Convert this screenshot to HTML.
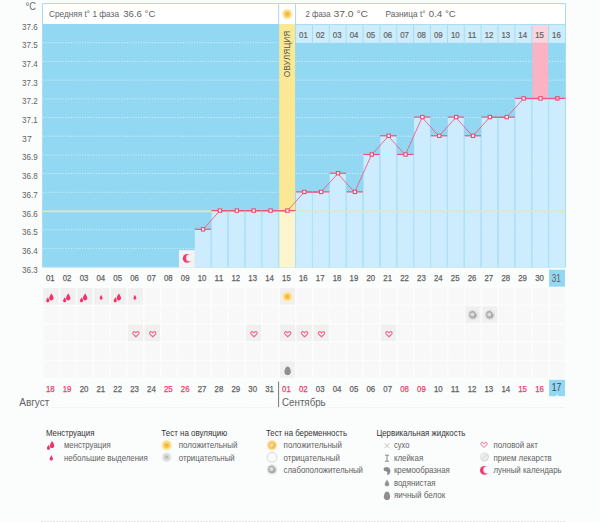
<!DOCTYPE html>
<html><head><meta charset="utf-8"><style>
html,body{margin:0;padding:0;background:#fbfcfc;}
body{width:600px;height:522px;overflow:hidden;position:relative;font-family:"Liberation Sans",sans-serif;}
svg{position:absolute;left:0;top:0;}
text{font-family:"Liberation Sans",sans-serif;}
</style></head><body>
<svg width="600" height="522" viewBox="0 0 600 522">

<rect x="42" y="3" width="524" height="21" fill="#ffffff"/>
<rect x="43" y="24" width="522" height="243.60" fill="#93d8f3"/>
<rect x="296.06" y="24" width="268.94" height="18.7" fill="#cdedfd"/>
<rect x="532.26" y="24" width="15.87" height="18.7" fill="#fcd4de"/>
<rect x="532.26" y="42.7" width="15.87" height="56.10" fill="#f9b3c3"/>
<rect x="279.19" y="24" width="15.87" height="187.00" fill="#fbe894"/>
<line x1="43" y1="42.70" x2="278.69" y2="42.70" stroke="#d8f1fb" stroke-width="1" stroke-dasharray="1 1.8"/>
<line x1="296.06" y1="42.70" x2="531.76" y2="42.70" stroke="#d8f1fb" stroke-width="1" stroke-dasharray="1 1.8"/>
<line x1="549.13" y1="42.70" x2="565" y2="42.70" stroke="#d8f1fb" stroke-width="1" stroke-dasharray="1 1.8"/>
<line x1="43" y1="61.40" x2="278.69" y2="61.40" stroke="#d8f1fb" stroke-width="1" stroke-dasharray="1 1.8"/>
<line x1="296.06" y1="61.40" x2="531.76" y2="61.40" stroke="#d8f1fb" stroke-width="1" stroke-dasharray="1 1.8"/>
<line x1="549.13" y1="61.40" x2="565" y2="61.40" stroke="#d8f1fb" stroke-width="1" stroke-dasharray="1 1.8"/>
<line x1="43" y1="80.10" x2="278.69" y2="80.10" stroke="#d8f1fb" stroke-width="1" stroke-dasharray="1 1.8"/>
<line x1="296.06" y1="80.10" x2="531.76" y2="80.10" stroke="#d8f1fb" stroke-width="1" stroke-dasharray="1 1.8"/>
<line x1="549.13" y1="80.10" x2="565" y2="80.10" stroke="#d8f1fb" stroke-width="1" stroke-dasharray="1 1.8"/>
<line x1="43" y1="98.80" x2="278.69" y2="98.80" stroke="#d8f1fb" stroke-width="1" stroke-dasharray="1 1.8"/>
<line x1="296.06" y1="98.80" x2="565" y2="98.80" stroke="#d8f1fb" stroke-width="1" stroke-dasharray="1 1.8"/>
<line x1="43" y1="117.50" x2="278.69" y2="117.50" stroke="#d8f1fb" stroke-width="1" stroke-dasharray="1 1.8"/>
<line x1="296.06" y1="117.50" x2="565" y2="117.50" stroke="#d8f1fb" stroke-width="1" stroke-dasharray="1 1.8"/>
<line x1="43" y1="136.20" x2="278.69" y2="136.20" stroke="#d8f1fb" stroke-width="1" stroke-dasharray="1 1.8"/>
<line x1="296.06" y1="136.20" x2="565" y2="136.20" stroke="#d8f1fb" stroke-width="1" stroke-dasharray="1 1.8"/>
<line x1="43" y1="154.90" x2="278.69" y2="154.90" stroke="#d8f1fb" stroke-width="1" stroke-dasharray="1 1.8"/>
<line x1="296.06" y1="154.90" x2="565" y2="154.90" stroke="#d8f1fb" stroke-width="1" stroke-dasharray="1 1.8"/>
<line x1="43" y1="173.60" x2="278.69" y2="173.60" stroke="#d8f1fb" stroke-width="1" stroke-dasharray="1 1.8"/>
<line x1="296.06" y1="173.60" x2="565" y2="173.60" stroke="#d8f1fb" stroke-width="1" stroke-dasharray="1 1.8"/>
<line x1="43" y1="192.30" x2="278.69" y2="192.30" stroke="#d8f1fb" stroke-width="1" stroke-dasharray="1 1.8"/>
<line x1="296.06" y1="192.30" x2="565" y2="192.30" stroke="#d8f1fb" stroke-width="1" stroke-dasharray="1 1.8"/>
<line x1="43" y1="211.00" x2="278.69" y2="211.00" stroke="#d8f1fb" stroke-width="1" stroke-dasharray="1 1.8"/>
<line x1="296.06" y1="211.00" x2="565" y2="211.00" stroke="#d8f1fb" stroke-width="1" stroke-dasharray="1 1.8"/>
<line x1="43" y1="229.70" x2="278.69" y2="229.70" stroke="#d8f1fb" stroke-width="1" stroke-dasharray="1 1.8"/>
<line x1="296.06" y1="229.70" x2="565" y2="229.70" stroke="#d8f1fb" stroke-width="1" stroke-dasharray="1 1.8"/>
<line x1="43" y1="248.40" x2="278.69" y2="248.40" stroke="#d8f1fb" stroke-width="1" stroke-dasharray="1 1.8"/>
<line x1="296.06" y1="248.40" x2="565" y2="248.40" stroke="#d8f1fb" stroke-width="1" stroke-dasharray="1 1.8"/>
<line x1="43" y1="267.10" x2="278.69" y2="267.10" stroke="#d8f1fb" stroke-width="1" stroke-dasharray="1 1.8"/>
<line x1="296.06" y1="267.10" x2="565" y2="267.10" stroke="#d8f1fb" stroke-width="1" stroke-dasharray="1 1.8"/>
<rect x="194.84" y="229.70" width="15.87" height="37.90" fill="#cdedfe"/>
<rect x="211.71" y="211.00" width="15.87" height="56.60" fill="#cdedfe"/>
<rect x="228.58" y="211.00" width="15.87" height="56.60" fill="#cdedfe"/>
<rect x="245.45" y="211.00" width="15.87" height="56.60" fill="#cdedfe"/>
<rect x="262.32" y="211.00" width="15.87" height="56.60" fill="#cdedfe"/>
<rect x="279.19" y="211.00" width="15.87" height="56.60" fill="#fdf5cc"/>
<rect x="296.06" y="192.30" width="15.87" height="75.30" fill="#cdedfe"/>
<rect x="312.94" y="192.30" width="15.87" height="75.30" fill="#cdedfe"/>
<rect x="329.81" y="173.60" width="15.87" height="94.00" fill="#cdedfe"/>
<rect x="346.68" y="192.30" width="15.87" height="75.30" fill="#cdedfe"/>
<rect x="363.55" y="154.90" width="15.87" height="112.70" fill="#cdedfe"/>
<rect x="380.42" y="136.20" width="15.87" height="131.40" fill="#cdedfe"/>
<rect x="397.29" y="154.90" width="15.87" height="112.70" fill="#cdedfe"/>
<rect x="414.16" y="117.50" width="15.87" height="150.10" fill="#cdedfe"/>
<rect x="431.03" y="136.20" width="15.87" height="131.40" fill="#cdedfe"/>
<rect x="447.90" y="117.50" width="15.87" height="150.10" fill="#cdedfe"/>
<rect x="464.77" y="136.20" width="15.87" height="131.40" fill="#cdedfe"/>
<rect x="481.65" y="117.50" width="15.87" height="150.10" fill="#cdedfe"/>
<rect x="498.52" y="117.50" width="15.87" height="150.10" fill="#cdedfe"/>
<rect x="515.39" y="98.80" width="15.87" height="168.80" fill="#cdedfe"/>
<rect x="532.26" y="98.80" width="15.87" height="168.80" fill="#cdedfe"/>
<rect x="549.13" y="98.80" width="15.87" height="168.80" fill="#cdedfe"/>
<rect x="210.71" y="229.70" width="1" height="37.90" fill="#b3e2f8"/>
<rect x="227.58" y="211.00" width="1" height="56.60" fill="#b3e2f8"/>
<rect x="244.45" y="211.00" width="1" height="56.60" fill="#b3e2f8"/>
<rect x="261.32" y="211.00" width="1" height="56.60" fill="#b3e2f8"/>
<rect x="278.19" y="211.00" width="1" height="56.60" fill="#b3e2f8"/>
<rect x="295.06" y="211.00" width="1" height="56.60" fill="#b3e2f8"/>
<rect x="311.94" y="192.30" width="1" height="75.30" fill="#b3e2f8"/>
<rect x="328.81" y="192.30" width="1" height="75.30" fill="#b3e2f8"/>
<rect x="345.68" y="192.30" width="1" height="75.30" fill="#b3e2f8"/>
<rect x="362.55" y="192.30" width="1" height="75.30" fill="#b3e2f8"/>
<rect x="379.42" y="154.90" width="1" height="112.70" fill="#b3e2f8"/>
<rect x="396.29" y="154.90" width="1" height="112.70" fill="#b3e2f8"/>
<rect x="413.16" y="154.90" width="1" height="112.70" fill="#b3e2f8"/>
<rect x="430.03" y="136.20" width="1" height="131.40" fill="#b3e2f8"/>
<rect x="446.90" y="136.20" width="1" height="131.40" fill="#b3e2f8"/>
<rect x="463.77" y="136.20" width="1" height="131.40" fill="#b3e2f8"/>
<rect x="480.65" y="136.20" width="1" height="131.40" fill="#b3e2f8"/>
<rect x="497.52" y="117.50" width="1" height="150.10" fill="#b3e2f8"/>
<rect x="514.39" y="117.50" width="1" height="150.10" fill="#b3e2f8"/>
<rect x="531.26" y="98.80" width="1" height="168.80" fill="#b3e2f8"/>
<rect x="548.13" y="98.80" width="1" height="168.80" fill="#b3e2f8"/>
<rect x="295.06" y="24" width="1" height="18.7" fill="#a8dcf2"/>
<rect x="311.94" y="24" width="1" height="18.7" fill="#a8dcf2"/>
<rect x="328.81" y="24" width="1" height="18.7" fill="#a8dcf2"/>
<rect x="345.68" y="24" width="1" height="18.7" fill="#a8dcf2"/>
<rect x="362.55" y="24" width="1" height="18.7" fill="#a8dcf2"/>
<rect x="379.42" y="24" width="1" height="18.7" fill="#a8dcf2"/>
<rect x="396.29" y="24" width="1" height="18.7" fill="#a8dcf2"/>
<rect x="413.16" y="24" width="1" height="18.7" fill="#a8dcf2"/>
<rect x="430.03" y="24" width="1" height="18.7" fill="#a8dcf2"/>
<rect x="446.90" y="24" width="1" height="18.7" fill="#a8dcf2"/>
<rect x="463.77" y="24" width="1" height="18.7" fill="#a8dcf2"/>
<rect x="480.65" y="24" width="1" height="18.7" fill="#a8dcf2"/>
<rect x="497.52" y="24" width="1" height="18.7" fill="#a8dcf2"/>
<rect x="514.39" y="24" width="1" height="18.7" fill="#a8dcf2"/>
<rect x="531.26" y="24" width="1" height="18.7" fill="#a8dcf2"/>
<rect x="548.13" y="24" width="1" height="18.7" fill="#a8dcf2"/>
<rect x="179" y="250.2" width="15.8" height="17.40" fill="#f4f4f4"/>
<rect x="43" y="210.60" width="522" height="1.6" fill="#e2eba4"/>
<rect x="295.56" y="24" width="269.44" height="1" fill="#aadcf2"/>
<rect x="278.19" y="3" width="1" height="21" fill="#a8dcf2"/>
<rect x="295.06" y="3" width="1" height="21" fill="#a8dcf2"/>
<path d="M42.5,267.60 V3.5 H565.5 V267.60" fill="none" stroke="#a8dcf2" stroke-width="1"/>
<rect x="194.64" y="228.70" width="16.47" height="1.15" fill="#ec5279"/>
<rect x="211.51" y="210.00" width="16.47" height="1.15" fill="#ec5279"/>
<rect x="228.38" y="210.00" width="16.47" height="1.15" fill="#ec5279"/>
<rect x="245.25" y="210.00" width="16.47" height="1.15" fill="#ec5279"/>
<rect x="262.12" y="210.00" width="16.47" height="1.15" fill="#ec5279"/>
<rect x="278.99" y="210.00" width="16.47" height="1.15" fill="#ec5279"/>
<rect x="295.86" y="191.30" width="16.47" height="1.15" fill="#ec5279"/>
<rect x="312.74" y="191.30" width="16.47" height="1.15" fill="#ec5279"/>
<rect x="329.61" y="172.60" width="16.47" height="1.15" fill="#ec5279"/>
<rect x="346.48" y="191.30" width="16.47" height="1.15" fill="#ec5279"/>
<rect x="363.35" y="153.90" width="16.47" height="1.15" fill="#ec5279"/>
<rect x="380.22" y="135.20" width="16.47" height="1.15" fill="#ec5279"/>
<rect x="397.09" y="153.90" width="16.47" height="1.15" fill="#ec5279"/>
<rect x="413.96" y="116.50" width="16.47" height="1.15" fill="#ec5279"/>
<rect x="430.83" y="135.20" width="16.47" height="1.15" fill="#ec5279"/>
<rect x="447.70" y="116.50" width="16.47" height="1.15" fill="#ec5279"/>
<rect x="464.57" y="135.20" width="16.47" height="1.15" fill="#ec5279"/>
<rect x="481.45" y="116.50" width="16.47" height="1.15" fill="#ec5279"/>
<rect x="498.32" y="116.50" width="16.47" height="1.15" fill="#ec5279"/>
<rect x="515.19" y="97.80" width="16.47" height="1.15" fill="#ec5279"/>
<rect x="532.06" y="97.80" width="16.47" height="1.15" fill="#ec5279"/>
<rect x="548.93" y="97.80" width="16.47" height="1.15" fill="#ec5279"/>
<polyline points="202.77,229.70 219.65,211.00 236.52,211.00 253.39,211.00 270.26,211.00 287.13,211.00 304.00,192.30 320.87,192.30 337.74,173.60 354.61,192.30 371.48,154.90 388.36,136.20 405.23,154.90 422.10,117.50 438.97,136.20 455.84,117.50 472.71,136.20 489.58,117.50 506.45,117.50 523.32,98.80 540.19,98.80 557.07,98.80" fill="none" stroke="#ee5d83" stroke-width="0.9"/>
<rect x="200.87" y="227.10" width="4.4" height="4.4" fill="#ea4a73"/>
<rect x="201.97" y="228.20" width="2.2" height="2.2" fill="#ffffff"/>
<rect x="217.75" y="208.40" width="4.4" height="4.4" fill="#ea4a73"/>
<rect x="218.85" y="209.50" width="2.2" height="2.2" fill="#ffffff"/>
<rect x="234.62" y="208.40" width="4.4" height="4.4" fill="#ea4a73"/>
<rect x="235.72" y="209.50" width="2.2" height="2.2" fill="#ffffff"/>
<rect x="251.49" y="208.40" width="4.4" height="4.4" fill="#ea4a73"/>
<rect x="252.59" y="209.50" width="2.2" height="2.2" fill="#ffffff"/>
<rect x="268.36" y="208.40" width="4.4" height="4.4" fill="#ea4a73"/>
<rect x="269.46" y="209.50" width="2.2" height="2.2" fill="#ffffff"/>
<rect x="285.23" y="208.40" width="4.4" height="4.4" fill="#ea4a73"/>
<rect x="286.33" y="209.50" width="2.2" height="2.2" fill="#ffffff"/>
<rect x="302.10" y="189.70" width="4.4" height="4.4" fill="#ea4a73"/>
<rect x="303.20" y="190.80" width="2.2" height="2.2" fill="#ffffff"/>
<rect x="318.97" y="189.70" width="4.4" height="4.4" fill="#ea4a73"/>
<rect x="320.07" y="190.80" width="2.2" height="2.2" fill="#ffffff"/>
<rect x="335.84" y="171.00" width="4.4" height="4.4" fill="#ea4a73"/>
<rect x="336.94" y="172.10" width="2.2" height="2.2" fill="#ffffff"/>
<rect x="352.71" y="189.70" width="4.4" height="4.4" fill="#ea4a73"/>
<rect x="353.81" y="190.80" width="2.2" height="2.2" fill="#ffffff"/>
<rect x="369.58" y="152.30" width="4.4" height="4.4" fill="#ea4a73"/>
<rect x="370.68" y="153.40" width="2.2" height="2.2" fill="#ffffff"/>
<rect x="386.46" y="133.60" width="4.4" height="4.4" fill="#ea4a73"/>
<rect x="387.56" y="134.70" width="2.2" height="2.2" fill="#ffffff"/>
<rect x="403.33" y="152.30" width="4.4" height="4.4" fill="#ea4a73"/>
<rect x="404.43" y="153.40" width="2.2" height="2.2" fill="#ffffff"/>
<rect x="420.20" y="114.90" width="4.4" height="4.4" fill="#ea4a73"/>
<rect x="421.30" y="116.00" width="2.2" height="2.2" fill="#ffffff"/>
<rect x="437.07" y="133.60" width="4.4" height="4.4" fill="#ea4a73"/>
<rect x="438.17" y="134.70" width="2.2" height="2.2" fill="#ffffff"/>
<rect x="453.94" y="114.90" width="4.4" height="4.4" fill="#ea4a73"/>
<rect x="455.04" y="116.00" width="2.2" height="2.2" fill="#ffffff"/>
<rect x="470.81" y="133.60" width="4.4" height="4.4" fill="#ea4a73"/>
<rect x="471.91" y="134.70" width="2.2" height="2.2" fill="#ffffff"/>
<rect x="487.68" y="114.90" width="4.4" height="4.4" fill="#ea4a73"/>
<rect x="488.78" y="116.00" width="2.2" height="2.2" fill="#ffffff"/>
<rect x="504.55" y="114.90" width="4.4" height="4.4" fill="#ea4a73"/>
<rect x="505.65" y="116.00" width="2.2" height="2.2" fill="#ffffff"/>
<rect x="521.42" y="96.20" width="4.4" height="4.4" fill="#ea4a73"/>
<rect x="522.52" y="97.30" width="2.2" height="2.2" fill="#ffffff"/>
<rect x="538.29" y="96.20" width="4.4" height="4.4" fill="#ea4a73"/>
<rect x="539.39" y="97.30" width="2.2" height="2.2" fill="#ffffff"/>
<rect x="555.17" y="96.20" width="4.4" height="4.4" fill="#ea4a73"/>
<rect x="556.27" y="97.30" width="2.2" height="2.2" fill="#f9c0cf"/>
<text x="35.90" y="9.80" font-size="10.2" fill="#6a6a6a" text-anchor="end" font-weight="normal" textLength="10.4" lengthAdjust="spacingAndGlyphs">°C</text>
<text x="22.10" y="29.50" font-size="9.1" fill="#626262" text-anchor="start" font-weight="normal" textLength="15.6" lengthAdjust="spacingAndGlyphs">37.6</text>
<text x="22.10" y="48.20" font-size="9.1" fill="#626262" text-anchor="start" font-weight="normal" textLength="15.6" lengthAdjust="spacingAndGlyphs">37.5</text>
<text x="22.10" y="66.90" font-size="9.1" fill="#626262" text-anchor="start" font-weight="normal" textLength="15.6" lengthAdjust="spacingAndGlyphs">37.4</text>
<text x="22.10" y="85.60" font-size="9.1" fill="#626262" text-anchor="start" font-weight="normal" textLength="15.6" lengthAdjust="spacingAndGlyphs">37.3</text>
<text x="22.10" y="104.30" font-size="9.1" fill="#626262" text-anchor="start" font-weight="normal" textLength="15.6" lengthAdjust="spacingAndGlyphs">37.2</text>
<text x="22.10" y="123.00" font-size="9.1" fill="#626262" text-anchor="start" font-weight="normal" textLength="15.6" lengthAdjust="spacingAndGlyphs">37.1</text>
<text x="22.10" y="141.70" font-size="9.1" fill="#626262" text-anchor="start" font-weight="normal" textLength="9.6" lengthAdjust="spacingAndGlyphs">37</text>
<text x="22.10" y="160.40" font-size="9.1" fill="#626262" text-anchor="start" font-weight="normal" textLength="15.6" lengthAdjust="spacingAndGlyphs">36.9</text>
<text x="22.10" y="179.10" font-size="9.1" fill="#626262" text-anchor="start" font-weight="normal" textLength="15.6" lengthAdjust="spacingAndGlyphs">36.8</text>
<text x="22.10" y="197.80" font-size="9.1" fill="#626262" text-anchor="start" font-weight="normal" textLength="15.6" lengthAdjust="spacingAndGlyphs">36.7</text>
<text x="22.10" y="216.50" font-size="9.1" fill="#626262" text-anchor="start" font-weight="normal" textLength="15.6" lengthAdjust="spacingAndGlyphs">36.6</text>
<text x="22.10" y="235.20" font-size="9.1" fill="#626262" text-anchor="start" font-weight="normal" textLength="15.6" lengthAdjust="spacingAndGlyphs">36.5</text>
<text x="22.10" y="253.90" font-size="9.1" fill="#626262" text-anchor="start" font-weight="normal" textLength="15.6" lengthAdjust="spacingAndGlyphs">36.4</text>
<text x="22.10" y="272.60" font-size="9.1" fill="#626262" text-anchor="start" font-weight="normal" textLength="15.6" lengthAdjust="spacingAndGlyphs">36.3</text>
<text x="49.00" y="16.60" font-size="9.6" fill="#626262" text-anchor="start" font-weight="normal" textLength="70" lengthAdjust="spacingAndGlyphs">Средняя t° 1 фаза</text>
<text x="123.30" y="16.70" font-size="9.9" fill="#626262" text-anchor="start" font-weight="normal" textLength="32" lengthAdjust="spacingAndGlyphs">36.6 °C</text>
<text x="305.50" y="16.60" font-size="9.6" fill="#626262" text-anchor="start" font-weight="normal" textLength="25" lengthAdjust="spacingAndGlyphs">2 фаза</text>
<text x="333.40" y="16.70" font-size="9.9" fill="#626262" text-anchor="start" font-weight="normal" textLength="34.6" lengthAdjust="spacingAndGlyphs">37.0 °C</text>
<text x="385.50" y="16.60" font-size="9.6" fill="#626262" text-anchor="start" font-weight="normal" textLength="40" lengthAdjust="spacingAndGlyphs">Разница t°</text>
<text x="428.80" y="16.70" font-size="9.9" fill="#626262" text-anchor="start" font-weight="normal" textLength="27" lengthAdjust="spacingAndGlyphs">0.4 °C</text>
<text transform="translate(289.6,77.2) rotate(-90)" font-size="8.4" fill="#5a5a50" textLength="46.6" lengthAdjust="spacingAndGlyphs">ОВУЛЯЦИЯ</text>
<text x="303.40" y="37.80" font-size="9.0" fill="#626262" text-anchor="middle" font-weight="normal" textLength="8.7" lengthAdjust="spacingAndGlyphs" stroke="#626262" stroke-width="0.2">01</text>
<text x="320.27" y="37.80" font-size="9.0" fill="#626262" text-anchor="middle" font-weight="normal" textLength="8.7" lengthAdjust="spacingAndGlyphs" stroke="#626262" stroke-width="0.2">02</text>
<text x="337.14" y="37.80" font-size="9.0" fill="#626262" text-anchor="middle" font-weight="normal" textLength="8.7" lengthAdjust="spacingAndGlyphs" stroke="#626262" stroke-width="0.2">03</text>
<text x="354.01" y="37.80" font-size="9.0" fill="#626262" text-anchor="middle" font-weight="normal" textLength="8.7" lengthAdjust="spacingAndGlyphs" stroke="#626262" stroke-width="0.2">04</text>
<text x="370.88" y="37.80" font-size="9.0" fill="#626262" text-anchor="middle" font-weight="normal" textLength="8.7" lengthAdjust="spacingAndGlyphs" stroke="#626262" stroke-width="0.2">05</text>
<text x="387.76" y="37.80" font-size="9.0" fill="#626262" text-anchor="middle" font-weight="normal" textLength="8.7" lengthAdjust="spacingAndGlyphs" stroke="#626262" stroke-width="0.2">06</text>
<text x="404.63" y="37.80" font-size="9.0" fill="#626262" text-anchor="middle" font-weight="normal" textLength="8.7" lengthAdjust="spacingAndGlyphs" stroke="#626262" stroke-width="0.2">07</text>
<text x="421.50" y="37.80" font-size="9.0" fill="#626262" text-anchor="middle" font-weight="normal" textLength="8.7" lengthAdjust="spacingAndGlyphs" stroke="#626262" stroke-width="0.2">08</text>
<text x="438.37" y="37.80" font-size="9.0" fill="#626262" text-anchor="middle" font-weight="normal" textLength="8.7" lengthAdjust="spacingAndGlyphs" stroke="#626262" stroke-width="0.2">09</text>
<text x="455.24" y="37.80" font-size="9.0" fill="#626262" text-anchor="middle" font-weight="normal" textLength="8.7" lengthAdjust="spacingAndGlyphs" stroke="#626262" stroke-width="0.2">10</text>
<text x="472.11" y="37.80" font-size="9.0" fill="#626262" text-anchor="middle" font-weight="normal" textLength="8.7" lengthAdjust="spacingAndGlyphs" stroke="#626262" stroke-width="0.2">11</text>
<text x="488.98" y="37.80" font-size="9.0" fill="#626262" text-anchor="middle" font-weight="normal" textLength="8.7" lengthAdjust="spacingAndGlyphs" stroke="#626262" stroke-width="0.2">12</text>
<text x="505.85" y="37.80" font-size="9.0" fill="#626262" text-anchor="middle" font-weight="normal" textLength="8.7" lengthAdjust="spacingAndGlyphs" stroke="#626262" stroke-width="0.2">13</text>
<text x="522.72" y="37.80" font-size="9.0" fill="#626262" text-anchor="middle" font-weight="normal" textLength="8.7" lengthAdjust="spacingAndGlyphs" stroke="#626262" stroke-width="0.2">14</text>
<text x="539.59" y="37.80" font-size="9.0" fill="#626262" text-anchor="middle" font-weight="normal" textLength="8.7" lengthAdjust="spacingAndGlyphs" stroke="#626262" stroke-width="0.2">15</text>
<text x="556.47" y="37.80" font-size="9.0" fill="#626262" text-anchor="middle" font-weight="normal" textLength="8.7" lengthAdjust="spacingAndGlyphs" stroke="#626262" stroke-width="0.2">16</text>
<text x="50.24" y="281.30" font-size="9.2" fill="#626262" text-anchor="middle" font-weight="normal" textLength="8.7" lengthAdjust="spacingAndGlyphs" stroke="#626262" stroke-width="0.25">01</text>
<text x="67.11" y="281.30" font-size="9.2" fill="#626262" text-anchor="middle" font-weight="normal" textLength="8.7" lengthAdjust="spacingAndGlyphs" stroke="#626262" stroke-width="0.25">02</text>
<text x="83.98" y="281.30" font-size="9.2" fill="#626262" text-anchor="middle" font-weight="normal" textLength="8.7" lengthAdjust="spacingAndGlyphs" stroke="#626262" stroke-width="0.25">03</text>
<text x="100.85" y="281.30" font-size="9.2" fill="#626262" text-anchor="middle" font-weight="normal" textLength="8.7" lengthAdjust="spacingAndGlyphs" stroke="#626262" stroke-width="0.25">04</text>
<text x="117.72" y="281.30" font-size="9.2" fill="#626262" text-anchor="middle" font-weight="normal" textLength="8.7" lengthAdjust="spacingAndGlyphs" stroke="#626262" stroke-width="0.25">05</text>
<text x="134.59" y="281.30" font-size="9.2" fill="#626262" text-anchor="middle" font-weight="normal" textLength="8.7" lengthAdjust="spacingAndGlyphs" stroke="#626262" stroke-width="0.25">06</text>
<text x="151.46" y="281.30" font-size="9.2" fill="#626262" text-anchor="middle" font-weight="normal" textLength="8.7" lengthAdjust="spacingAndGlyphs" stroke="#626262" stroke-width="0.25">07</text>
<text x="168.33" y="281.30" font-size="9.2" fill="#626262" text-anchor="middle" font-weight="normal" textLength="8.7" lengthAdjust="spacingAndGlyphs" stroke="#626262" stroke-width="0.25">08</text>
<text x="185.20" y="281.30" font-size="9.2" fill="#626262" text-anchor="middle" font-weight="normal" textLength="8.7" lengthAdjust="spacingAndGlyphs" stroke="#626262" stroke-width="0.25">09</text>
<text x="202.07" y="281.30" font-size="9.2" fill="#626262" text-anchor="middle" font-weight="normal" textLength="8.7" lengthAdjust="spacingAndGlyphs" stroke="#626262" stroke-width="0.25">10</text>
<text x="218.95" y="281.30" font-size="9.2" fill="#626262" text-anchor="middle" font-weight="normal" textLength="8.7" lengthAdjust="spacingAndGlyphs" stroke="#626262" stroke-width="0.25">11</text>
<text x="235.82" y="281.30" font-size="9.2" fill="#626262" text-anchor="middle" font-weight="normal" textLength="8.7" lengthAdjust="spacingAndGlyphs" stroke="#626262" stroke-width="0.25">12</text>
<text x="252.69" y="281.30" font-size="9.2" fill="#626262" text-anchor="middle" font-weight="normal" textLength="8.7" lengthAdjust="spacingAndGlyphs" stroke="#626262" stroke-width="0.25">13</text>
<text x="269.56" y="281.30" font-size="9.2" fill="#626262" text-anchor="middle" font-weight="normal" textLength="8.7" lengthAdjust="spacingAndGlyphs" stroke="#626262" stroke-width="0.25">14</text>
<text x="286.43" y="281.30" font-size="9.2" fill="#626262" text-anchor="middle" font-weight="normal" textLength="8.7" lengthAdjust="spacingAndGlyphs" stroke="#626262" stroke-width="0.25">15</text>
<text x="303.30" y="281.30" font-size="9.2" fill="#626262" text-anchor="middle" font-weight="normal" textLength="8.7" lengthAdjust="spacingAndGlyphs" stroke="#626262" stroke-width="0.25">16</text>
<text x="320.17" y="281.30" font-size="9.2" fill="#626262" text-anchor="middle" font-weight="normal" textLength="8.7" lengthAdjust="spacingAndGlyphs" stroke="#626262" stroke-width="0.25">17</text>
<text x="337.04" y="281.30" font-size="9.2" fill="#626262" text-anchor="middle" font-weight="normal" textLength="8.7" lengthAdjust="spacingAndGlyphs" stroke="#626262" stroke-width="0.25">18</text>
<text x="353.91" y="281.30" font-size="9.2" fill="#626262" text-anchor="middle" font-weight="normal" textLength="8.7" lengthAdjust="spacingAndGlyphs" stroke="#626262" stroke-width="0.25">19</text>
<text x="370.78" y="281.30" font-size="9.2" fill="#626262" text-anchor="middle" font-weight="normal" textLength="8.7" lengthAdjust="spacingAndGlyphs" stroke="#626262" stroke-width="0.25">20</text>
<text x="387.66" y="281.30" font-size="9.2" fill="#626262" text-anchor="middle" font-weight="normal" textLength="8.7" lengthAdjust="spacingAndGlyphs" stroke="#626262" stroke-width="0.25">21</text>
<text x="404.53" y="281.30" font-size="9.2" fill="#626262" text-anchor="middle" font-weight="normal" textLength="8.7" lengthAdjust="spacingAndGlyphs" stroke="#626262" stroke-width="0.25">22</text>
<text x="421.40" y="281.30" font-size="9.2" fill="#626262" text-anchor="middle" font-weight="normal" textLength="8.7" lengthAdjust="spacingAndGlyphs" stroke="#626262" stroke-width="0.25">23</text>
<text x="438.27" y="281.30" font-size="9.2" fill="#626262" text-anchor="middle" font-weight="normal" textLength="8.7" lengthAdjust="spacingAndGlyphs" stroke="#626262" stroke-width="0.25">24</text>
<text x="455.14" y="281.30" font-size="9.2" fill="#626262" text-anchor="middle" font-weight="normal" textLength="8.7" lengthAdjust="spacingAndGlyphs" stroke="#626262" stroke-width="0.25">25</text>
<text x="472.01" y="281.30" font-size="9.2" fill="#626262" text-anchor="middle" font-weight="normal" textLength="8.7" lengthAdjust="spacingAndGlyphs" stroke="#626262" stroke-width="0.25">26</text>
<text x="488.88" y="281.30" font-size="9.2" fill="#626262" text-anchor="middle" font-weight="normal" textLength="8.7" lengthAdjust="spacingAndGlyphs" stroke="#626262" stroke-width="0.25">27</text>
<text x="505.75" y="281.30" font-size="9.2" fill="#626262" text-anchor="middle" font-weight="normal" textLength="8.7" lengthAdjust="spacingAndGlyphs" stroke="#626262" stroke-width="0.25">28</text>
<text x="522.62" y="281.30" font-size="9.2" fill="#626262" text-anchor="middle" font-weight="normal" textLength="8.7" lengthAdjust="spacingAndGlyphs" stroke="#626262" stroke-width="0.25">29</text>
<text x="539.49" y="281.30" font-size="9.2" fill="#626262" text-anchor="middle" font-weight="normal" textLength="8.7" lengthAdjust="spacingAndGlyphs" stroke="#626262" stroke-width="0.25">30</text>
<rect x="549.13" y="269.7" width="15.87" height="17" fill="#93d8f3"/>
<text x="556.37" y="281.80" font-size="10.2" fill="#626262" text-anchor="middle" font-weight="normal" textLength="9.2" lengthAdjust="spacingAndGlyphs">31</text>
<rect x="43.50" y="288.00" width="15.27" height="16.6" fill="#f0f0f0"/>
<path d="M51.34,293.20 C52.14,295.20 53.74,296.20 53.54,298.60 C53.34,301.00 49.34,301.00 49.14,298.60 C49.04,296.40 50.54,295.20 51.34,293.20 Z" fill="#f2336a"/><path d="M47.84,297.20 C48.34,298.60 49.54,299.40 49.34,301.00 C49.14,302.80 46.34,302.80 46.24,301.00 C46.14,299.40 47.34,298.60 47.84,297.20 Z" fill="#f2336a"/>
<rect x="60.37" y="288.00" width="15.27" height="16.6" fill="#f0f0f0"/>
<path d="M68.21,293.20 C69.01,295.20 70.61,296.20 70.41,298.60 C70.21,301.00 66.21,301.00 66.01,298.60 C65.91,296.40 67.41,295.20 68.21,293.20 Z" fill="#f2336a"/><path d="M64.71,297.20 C65.21,298.60 66.41,299.40 66.21,301.00 C66.01,302.80 63.21,302.80 63.11,301.00 C63.01,299.40 64.21,298.60 64.71,297.20 Z" fill="#f2336a"/>
<rect x="77.24" y="288.00" width="15.27" height="16.6" fill="#f0f0f0"/>
<path d="M85.08,293.20 C85.88,295.20 87.48,296.20 87.28,298.60 C87.08,301.00 83.08,301.00 82.88,298.60 C82.78,296.40 84.28,295.20 85.08,293.20 Z" fill="#f2336a"/><path d="M81.58,297.20 C82.08,298.60 83.28,299.40 83.08,301.00 C82.88,302.80 80.08,302.80 79.98,301.00 C79.88,299.40 81.08,298.60 81.58,297.20 Z" fill="#f2336a"/>
<rect x="94.11" y="288.00" width="15.27" height="16.6" fill="#f0f0f0"/>
<path d="M101.15,294.80 C101.65,296.20 102.65,297.00 102.55,298.40 C102.45,300.00 99.85,300.00 99.75,298.40 C99.65,297.00 100.65,296.20 101.15,294.80 Z" fill="#f2336a"/>
<rect x="110.98" y="288.00" width="15.27" height="16.6" fill="#f0f0f0"/>
<path d="M118.82,293.20 C119.62,295.20 121.22,296.20 121.02,298.60 C120.82,301.00 116.82,301.00 116.62,298.60 C116.52,296.40 118.02,295.20 118.82,293.20 Z" fill="#f2336a"/><path d="M115.32,297.20 C115.82,298.60 117.02,299.40 116.82,301.00 C116.62,302.80 113.82,302.80 113.72,301.00 C113.62,299.40 114.82,298.60 115.32,297.20 Z" fill="#f2336a"/>
<rect x="127.85" y="288.00" width="15.27" height="16.6" fill="#f0f0f0"/>
<path d="M134.89,294.80 C135.39,296.20 136.39,297.00 136.29,298.40 C136.19,300.00 133.59,300.00 133.49,298.40 C133.39,297.00 134.39,296.20 134.89,294.80 Z" fill="#f2336a"/>
<rect x="144.73" y="288.00" width="15.27" height="16.6" fill="#f8f8f8"/>
<rect x="161.60" y="288.00" width="15.27" height="16.6" fill="#f8f8f8"/>
<rect x="178.47" y="288.00" width="15.27" height="16.6" fill="#f8f8f8"/>
<rect x="195.34" y="288.00" width="15.27" height="16.6" fill="#f8f8f8"/>
<rect x="212.21" y="288.00" width="15.27" height="16.6" fill="#f8f8f8"/>
<rect x="229.08" y="288.00" width="15.27" height="16.6" fill="#f8f8f8"/>
<rect x="245.95" y="288.00" width="15.27" height="16.6" fill="#f8f8f8"/>
<rect x="262.82" y="288.00" width="15.27" height="16.6" fill="#f8f8f8"/>
<rect x="279.69" y="288.00" width="15.27" height="16.6" fill="#f0f0f0"/>
<circle cx="287.33" cy="296.50" r="5.3" fill="#fde9ad"/><circle cx="287.33" cy="296.50" r="3.6" fill="#fbd36e"/><circle cx="287.33" cy="296.90" r="2.2" fill="#f8bd48"/><rect x="285.93" y="295.60" width="2.8" height="0.8" fill="#ef9a45"/>
<rect x="296.56" y="288.00" width="15.27" height="16.6" fill="#f8f8f8"/>
<rect x="313.44" y="288.00" width="15.27" height="16.6" fill="#f8f8f8"/>
<rect x="330.31" y="288.00" width="15.27" height="16.6" fill="#f8f8f8"/>
<rect x="347.18" y="288.00" width="15.27" height="16.6" fill="#f8f8f8"/>
<rect x="364.05" y="288.00" width="15.27" height="16.6" fill="#f8f8f8"/>
<rect x="380.92" y="288.00" width="15.27" height="16.6" fill="#f8f8f8"/>
<rect x="397.79" y="288.00" width="15.27" height="16.6" fill="#f8f8f8"/>
<rect x="414.66" y="288.00" width="15.27" height="16.6" fill="#f8f8f8"/>
<rect x="431.53" y="288.00" width="15.27" height="16.6" fill="#f8f8f8"/>
<rect x="448.40" y="288.00" width="15.27" height="16.6" fill="#f8f8f8"/>
<rect x="465.27" y="288.00" width="15.27" height="16.6" fill="#f8f8f8"/>
<rect x="482.15" y="288.00" width="15.27" height="16.6" fill="#f8f8f8"/>
<rect x="499.02" y="288.00" width="15.27" height="16.6" fill="#f8f8f8"/>
<rect x="515.89" y="288.00" width="15.27" height="16.6" fill="#f8f8f8"/>
<rect x="532.76" y="288.00" width="15.27" height="16.6" fill="#f8f8f8"/>
<rect x="549.63" y="288.00" width="15.27" height="16.6" fill="#f8f8f8"/>
<rect x="43.50" y="306.30" width="15.27" height="16.6" fill="#f8f8f8"/>
<rect x="60.37" y="306.30" width="15.27" height="16.6" fill="#f8f8f8"/>
<rect x="77.24" y="306.30" width="15.27" height="16.6" fill="#f8f8f8"/>
<rect x="94.11" y="306.30" width="15.27" height="16.6" fill="#f8f8f8"/>
<rect x="110.98" y="306.30" width="15.27" height="16.6" fill="#f8f8f8"/>
<rect x="127.85" y="306.30" width="15.27" height="16.6" fill="#f8f8f8"/>
<rect x="144.73" y="306.30" width="15.27" height="16.6" fill="#f8f8f8"/>
<rect x="161.60" y="306.30" width="15.27" height="16.6" fill="#f8f8f8"/>
<rect x="178.47" y="306.30" width="15.27" height="16.6" fill="#f8f8f8"/>
<rect x="195.34" y="306.30" width="15.27" height="16.6" fill="#f8f8f8"/>
<rect x="212.21" y="306.30" width="15.27" height="16.6" fill="#f8f8f8"/>
<rect x="229.08" y="306.30" width="15.27" height="16.6" fill="#f8f8f8"/>
<rect x="245.95" y="306.30" width="15.27" height="16.6" fill="#f8f8f8"/>
<rect x="262.82" y="306.30" width="15.27" height="16.6" fill="#f8f8f8"/>
<rect x="279.69" y="306.30" width="15.27" height="16.6" fill="#f8f8f8"/>
<rect x="296.56" y="306.30" width="15.27" height="16.6" fill="#f8f8f8"/>
<rect x="313.44" y="306.30" width="15.27" height="16.6" fill="#f8f8f8"/>
<rect x="330.31" y="306.30" width="15.27" height="16.6" fill="#f8f8f8"/>
<rect x="347.18" y="306.30" width="15.27" height="16.6" fill="#f8f8f8"/>
<rect x="364.05" y="306.30" width="15.27" height="16.6" fill="#f8f8f8"/>
<rect x="380.92" y="306.30" width="15.27" height="16.6" fill="#f8f8f8"/>
<rect x="397.79" y="306.30" width="15.27" height="16.6" fill="#f8f8f8"/>
<rect x="414.66" y="306.30" width="15.27" height="16.6" fill="#f8f8f8"/>
<rect x="431.53" y="306.30" width="15.27" height="16.6" fill="#f8f8f8"/>
<rect x="448.40" y="306.30" width="15.27" height="16.6" fill="#f8f8f8"/>
<rect x="465.27" y="306.30" width="15.27" height="16.6" fill="#f0f0f0"/>
<circle cx="472.91" cy="314.80" r="5.2" fill="#dedede"/><circle cx="472.91" cy="314.80" r="3.7" fill="#a9a9a9"/><circle cx="472.41" cy="314.50" r="2.1" fill="#dcdcdc"/><path d="M474.31,311.20 A3.9,3.9 0 0 1 476.61,313.80" stroke="#fff" stroke-width="0.9" fill="none"/>
<rect x="482.15" y="306.30" width="15.27" height="16.6" fill="#f0f0f0"/>
<circle cx="489.78" cy="314.80" r="5.2" fill="#dedede"/><circle cx="489.78" cy="314.80" r="3.7" fill="#a9a9a9"/><circle cx="489.28" cy="314.50" r="2.1" fill="#dcdcdc"/><path d="M491.18,311.20 A3.9,3.9 0 0 1 493.48,313.80" stroke="#fff" stroke-width="0.9" fill="none"/>
<rect x="499.02" y="306.30" width="15.27" height="16.6" fill="#f8f8f8"/>
<rect x="515.89" y="306.30" width="15.27" height="16.6" fill="#f8f8f8"/>
<rect x="532.76" y="306.30" width="15.27" height="16.6" fill="#f8f8f8"/>
<rect x="549.63" y="306.30" width="15.27" height="16.6" fill="#f8f8f8"/>
<rect x="43.50" y="324.60" width="15.27" height="16.6" fill="#f8f8f8"/>
<rect x="60.37" y="324.60" width="15.27" height="16.6" fill="#f8f8f8"/>
<rect x="77.24" y="324.60" width="15.27" height="16.6" fill="#f8f8f8"/>
<rect x="94.11" y="324.60" width="15.27" height="16.6" fill="#f8f8f8"/>
<rect x="110.98" y="324.60" width="15.27" height="16.6" fill="#f8f8f8"/>
<rect x="127.85" y="324.60" width="15.27" height="16.6" fill="#f0f0f0"/>
<path d="M135.89,336.80 L133.19,334.10 C132.09,332.90 133.29,331.10 134.59,331.70 Q135.49,332.10 135.89,333.00 Q136.29,332.10 137.19,331.70 C138.49,331.10 139.69,332.90 138.59,334.10 Z" fill="#fff" stroke="#f3668c" stroke-width="1.25" stroke-linejoin="round"/>
<rect x="144.73" y="324.60" width="15.27" height="16.6" fill="#f0f0f0"/>
<path d="M152.76,336.80 L150.06,334.10 C148.96,332.90 150.16,331.10 151.46,331.70 Q152.36,332.10 152.76,333.00 Q153.16,332.10 154.06,331.70 C155.36,331.10 156.56,332.90 155.46,334.10 Z" fill="#fff" stroke="#f3668c" stroke-width="1.25" stroke-linejoin="round"/>
<rect x="161.60" y="324.60" width="15.27" height="16.6" fill="#f8f8f8"/>
<rect x="178.47" y="324.60" width="15.27" height="16.6" fill="#f8f8f8"/>
<rect x="195.34" y="324.60" width="15.27" height="16.6" fill="#f8f8f8"/>
<rect x="212.21" y="324.60" width="15.27" height="16.6" fill="#f8f8f8"/>
<rect x="229.08" y="324.60" width="15.27" height="16.6" fill="#f8f8f8"/>
<rect x="245.95" y="324.60" width="15.27" height="16.6" fill="#f0f0f0"/>
<path d="M253.99,336.80 L251.29,334.10 C250.19,332.90 251.39,331.10 252.69,331.70 Q253.59,332.10 253.99,333.00 Q254.39,332.10 255.29,331.70 C256.59,331.10 257.79,332.90 256.69,334.10 Z" fill="#fff" stroke="#f3668c" stroke-width="1.25" stroke-linejoin="round"/>
<rect x="262.82" y="324.60" width="15.27" height="16.6" fill="#f8f8f8"/>
<rect x="279.69" y="324.60" width="15.27" height="16.6" fill="#f0f0f0"/>
<path d="M287.73,336.80 L285.03,334.10 C283.93,332.90 285.13,331.10 286.43,331.70 Q287.33,332.10 287.73,333.00 Q288.13,332.10 289.03,331.70 C290.33,331.10 291.53,332.90 290.43,334.10 Z" fill="#fff" stroke="#f3668c" stroke-width="1.25" stroke-linejoin="round"/>
<rect x="296.56" y="324.60" width="15.27" height="16.6" fill="#f0f0f0"/>
<path d="M304.60,336.80 L301.90,334.10 C300.80,332.90 302.00,331.10 303.30,331.70 Q304.20,332.10 304.60,333.00 Q305.00,332.10 305.90,331.70 C307.20,331.10 308.40,332.90 307.30,334.10 Z" fill="#fff" stroke="#f3668c" stroke-width="1.25" stroke-linejoin="round"/>
<rect x="313.44" y="324.60" width="15.27" height="16.6" fill="#f0f0f0"/>
<path d="M321.47,336.80 L318.77,334.10 C317.67,332.90 318.87,331.10 320.17,331.70 Q321.07,332.10 321.47,333.00 Q321.87,332.10 322.77,331.70 C324.07,331.10 325.27,332.90 324.17,334.10 Z" fill="#fff" stroke="#f3668c" stroke-width="1.25" stroke-linejoin="round"/>
<rect x="330.31" y="324.60" width="15.27" height="16.6" fill="#f8f8f8"/>
<rect x="347.18" y="324.60" width="15.27" height="16.6" fill="#f8f8f8"/>
<rect x="364.05" y="324.60" width="15.27" height="16.6" fill="#f8f8f8"/>
<rect x="380.92" y="324.60" width="15.27" height="16.6" fill="#f0f0f0"/>
<path d="M388.96,336.80 L386.26,334.10 C385.16,332.90 386.36,331.10 387.66,331.70 Q388.56,332.10 388.96,333.00 Q389.36,332.10 390.26,331.70 C391.56,331.10 392.76,332.90 391.66,334.10 Z" fill="#fff" stroke="#f3668c" stroke-width="1.25" stroke-linejoin="round"/>
<rect x="397.79" y="324.60" width="15.27" height="16.6" fill="#f8f8f8"/>
<rect x="414.66" y="324.60" width="15.27" height="16.6" fill="#f8f8f8"/>
<rect x="431.53" y="324.60" width="15.27" height="16.6" fill="#f8f8f8"/>
<rect x="448.40" y="324.60" width="15.27" height="16.6" fill="#f8f8f8"/>
<rect x="465.27" y="324.60" width="15.27" height="16.6" fill="#f8f8f8"/>
<rect x="482.15" y="324.60" width="15.27" height="16.6" fill="#f8f8f8"/>
<rect x="499.02" y="324.60" width="15.27" height="16.6" fill="#f8f8f8"/>
<rect x="515.89" y="324.60" width="15.27" height="16.6" fill="#f8f8f8"/>
<rect x="532.76" y="324.60" width="15.27" height="16.6" fill="#f8f8f8"/>
<rect x="549.63" y="324.60" width="15.27" height="16.6" fill="#f8f8f8"/>
<rect x="43.50" y="342.90" width="15.27" height="16.6" fill="#f8f8f8"/>
<rect x="60.37" y="342.90" width="15.27" height="16.6" fill="#f8f8f8"/>
<rect x="77.24" y="342.90" width="15.27" height="16.6" fill="#f8f8f8"/>
<rect x="94.11" y="342.90" width="15.27" height="16.6" fill="#f8f8f8"/>
<rect x="110.98" y="342.90" width="15.27" height="16.6" fill="#f8f8f8"/>
<rect x="127.85" y="342.90" width="15.27" height="16.6" fill="#f8f8f8"/>
<rect x="144.73" y="342.90" width="15.27" height="16.6" fill="#f8f8f8"/>
<rect x="161.60" y="342.90" width="15.27" height="16.6" fill="#f8f8f8"/>
<rect x="178.47" y="342.90" width="15.27" height="16.6" fill="#f8f8f8"/>
<rect x="195.34" y="342.90" width="15.27" height="16.6" fill="#f8f8f8"/>
<rect x="212.21" y="342.90" width="15.27" height="16.6" fill="#f8f8f8"/>
<rect x="229.08" y="342.90" width="15.27" height="16.6" fill="#f8f8f8"/>
<rect x="245.95" y="342.90" width="15.27" height="16.6" fill="#f8f8f8"/>
<rect x="262.82" y="342.90" width="15.27" height="16.6" fill="#f8f8f8"/>
<rect x="279.69" y="342.90" width="15.27" height="16.6" fill="#f8f8f8"/>
<rect x="296.56" y="342.90" width="15.27" height="16.6" fill="#f8f8f8"/>
<rect x="313.44" y="342.90" width="15.27" height="16.6" fill="#f8f8f8"/>
<rect x="330.31" y="342.90" width="15.27" height="16.6" fill="#f8f8f8"/>
<rect x="347.18" y="342.90" width="15.27" height="16.6" fill="#f8f8f8"/>
<rect x="364.05" y="342.90" width="15.27" height="16.6" fill="#f8f8f8"/>
<rect x="380.92" y="342.90" width="15.27" height="16.6" fill="#f8f8f8"/>
<rect x="397.79" y="342.90" width="15.27" height="16.6" fill="#f8f8f8"/>
<rect x="414.66" y="342.90" width="15.27" height="16.6" fill="#f8f8f8"/>
<rect x="431.53" y="342.90" width="15.27" height="16.6" fill="#f8f8f8"/>
<rect x="448.40" y="342.90" width="15.27" height="16.6" fill="#f8f8f8"/>
<rect x="465.27" y="342.90" width="15.27" height="16.6" fill="#f8f8f8"/>
<rect x="482.15" y="342.90" width="15.27" height="16.6" fill="#f8f8f8"/>
<rect x="499.02" y="342.90" width="15.27" height="16.6" fill="#f8f8f8"/>
<rect x="515.89" y="342.90" width="15.27" height="16.6" fill="#f8f8f8"/>
<rect x="532.76" y="342.90" width="15.27" height="16.6" fill="#f8f8f8"/>
<rect x="549.63" y="342.90" width="15.27" height="16.6" fill="#f8f8f8"/>
<rect x="43.50" y="361.20" width="15.27" height="16.6" fill="#f8f8f8"/>
<rect x="60.37" y="361.20" width="15.27" height="16.6" fill="#f8f8f8"/>
<rect x="77.24" y="361.20" width="15.27" height="16.6" fill="#f8f8f8"/>
<rect x="94.11" y="361.20" width="15.27" height="16.6" fill="#f8f8f8"/>
<rect x="110.98" y="361.20" width="15.27" height="16.6" fill="#f8f8f8"/>
<rect x="127.85" y="361.20" width="15.27" height="16.6" fill="#f8f8f8"/>
<rect x="144.73" y="361.20" width="15.27" height="16.6" fill="#f8f8f8"/>
<rect x="161.60" y="361.20" width="15.27" height="16.6" fill="#f8f8f8"/>
<rect x="178.47" y="361.20" width="15.27" height="16.6" fill="#f8f8f8"/>
<rect x="195.34" y="361.20" width="15.27" height="16.6" fill="#f8f8f8"/>
<rect x="212.21" y="361.20" width="15.27" height="16.6" fill="#f8f8f8"/>
<rect x="229.08" y="361.20" width="15.27" height="16.6" fill="#f8f8f8"/>
<rect x="245.95" y="361.20" width="15.27" height="16.6" fill="#f8f8f8"/>
<rect x="262.82" y="361.20" width="15.27" height="16.6" fill="#f8f8f8"/>
<rect x="279.69" y="361.20" width="15.27" height="16.6" fill="#f0f0f0"/>
<path d="M287.63,366.40 C289.83,366.40 290.83,370.20 290.83,371.90 C290.83,373.90 289.43,375.00 287.63,375.00 C285.83,375.00 284.43,373.90 284.43,371.90 C284.43,370.20 285.43,366.40 287.63,366.40 Z" fill="#8f8f8f"/>
<rect x="296.56" y="361.20" width="15.27" height="16.6" fill="#f8f8f8"/>
<rect x="313.44" y="361.20" width="15.27" height="16.6" fill="#f8f8f8"/>
<rect x="330.31" y="361.20" width="15.27" height="16.6" fill="#f8f8f8"/>
<rect x="347.18" y="361.20" width="15.27" height="16.6" fill="#f8f8f8"/>
<rect x="364.05" y="361.20" width="15.27" height="16.6" fill="#f8f8f8"/>
<rect x="380.92" y="361.20" width="15.27" height="16.6" fill="#f8f8f8"/>
<rect x="397.79" y="361.20" width="15.27" height="16.6" fill="#f8f8f8"/>
<rect x="414.66" y="361.20" width="15.27" height="16.6" fill="#f8f8f8"/>
<rect x="431.53" y="361.20" width="15.27" height="16.6" fill="#f8f8f8"/>
<rect x="448.40" y="361.20" width="15.27" height="16.6" fill="#f8f8f8"/>
<rect x="465.27" y="361.20" width="15.27" height="16.6" fill="#f8f8f8"/>
<rect x="482.15" y="361.20" width="15.27" height="16.6" fill="#f8f8f8"/>
<rect x="499.02" y="361.20" width="15.27" height="16.6" fill="#f8f8f8"/>
<rect x="515.89" y="361.20" width="15.27" height="16.6" fill="#f8f8f8"/>
<rect x="532.76" y="361.20" width="15.27" height="16.6" fill="#f8f8f8"/>
<rect x="549.63" y="361.20" width="15.27" height="16.6" fill="#f8f8f8"/>
<circle cx="287.30" cy="14.00" r="5.3" fill="#fde9ad"/><circle cx="287.30" cy="14.00" r="3.6" fill="#fbd36e"/><circle cx="287.30" cy="14.40" r="2.2" fill="#f8bd48"/><rect x="285.90" y="13.10" width="2.8" height="0.8" fill="#ef9a45"/>
<circle cx="187.20" cy="258.40" r="4.4" fill="#f03a6d"/><circle cx="189.50" cy="257.90" r="3.7" fill="#f7b8ca"/><circle cx="190.30" cy="257.80" r="3.5" fill="#f4f4f4"/>
<text x="50.24" y="392.20" font-size="9.0" fill="#ee3b6b" text-anchor="middle" font-weight="normal" textLength="8.7" lengthAdjust="spacingAndGlyphs" stroke="#ee3b6b" stroke-width="0.25">18</text>
<text x="67.11" y="392.20" font-size="9.0" fill="#ee3b6b" text-anchor="middle" font-weight="normal" textLength="8.7" lengthAdjust="spacingAndGlyphs" stroke="#ee3b6b" stroke-width="0.25">19</text>
<text x="83.98" y="392.20" font-size="9.0" fill="#626262" text-anchor="middle" font-weight="normal" textLength="8.7" lengthAdjust="spacingAndGlyphs" stroke="#626262" stroke-width="0.25">20</text>
<text x="100.85" y="392.20" font-size="9.0" fill="#626262" text-anchor="middle" font-weight="normal" textLength="8.7" lengthAdjust="spacingAndGlyphs" stroke="#626262" stroke-width="0.25">21</text>
<text x="117.72" y="392.20" font-size="9.0" fill="#626262" text-anchor="middle" font-weight="normal" textLength="8.7" lengthAdjust="spacingAndGlyphs" stroke="#626262" stroke-width="0.25">22</text>
<text x="134.59" y="392.20" font-size="9.0" fill="#626262" text-anchor="middle" font-weight="normal" textLength="8.7" lengthAdjust="spacingAndGlyphs" stroke="#626262" stroke-width="0.25">23</text>
<text x="151.46" y="392.20" font-size="9.0" fill="#626262" text-anchor="middle" font-weight="normal" textLength="8.7" lengthAdjust="spacingAndGlyphs" stroke="#626262" stroke-width="0.25">24</text>
<text x="168.33" y="392.20" font-size="9.0" fill="#ee3b6b" text-anchor="middle" font-weight="normal" textLength="8.7" lengthAdjust="spacingAndGlyphs" stroke="#ee3b6b" stroke-width="0.25">25</text>
<text x="185.20" y="392.20" font-size="9.0" fill="#ee3b6b" text-anchor="middle" font-weight="normal" textLength="8.7" lengthAdjust="spacingAndGlyphs" stroke="#ee3b6b" stroke-width="0.25">26</text>
<text x="202.07" y="392.20" font-size="9.0" fill="#626262" text-anchor="middle" font-weight="normal" textLength="8.7" lengthAdjust="spacingAndGlyphs" stroke="#626262" stroke-width="0.25">27</text>
<text x="218.95" y="392.20" font-size="9.0" fill="#626262" text-anchor="middle" font-weight="normal" textLength="8.7" lengthAdjust="spacingAndGlyphs" stroke="#626262" stroke-width="0.25">28</text>
<text x="235.82" y="392.20" font-size="9.0" fill="#626262" text-anchor="middle" font-weight="normal" textLength="8.7" lengthAdjust="spacingAndGlyphs" stroke="#626262" stroke-width="0.25">29</text>
<text x="252.69" y="392.20" font-size="9.0" fill="#626262" text-anchor="middle" font-weight="normal" textLength="8.7" lengthAdjust="spacingAndGlyphs" stroke="#626262" stroke-width="0.25">30</text>
<text x="269.56" y="392.20" font-size="9.0" fill="#626262" text-anchor="middle" font-weight="normal" textLength="8.7" lengthAdjust="spacingAndGlyphs" stroke="#626262" stroke-width="0.25">31</text>
<text x="286.43" y="392.20" font-size="9.0" fill="#ee3b6b" text-anchor="middle" font-weight="normal" textLength="8.7" lengthAdjust="spacingAndGlyphs" stroke="#ee3b6b" stroke-width="0.25">01</text>
<text x="303.30" y="392.20" font-size="9.0" fill="#ee3b6b" text-anchor="middle" font-weight="normal" textLength="8.7" lengthAdjust="spacingAndGlyphs" stroke="#ee3b6b" stroke-width="0.25">02</text>
<text x="320.17" y="392.20" font-size="9.0" fill="#626262" text-anchor="middle" font-weight="normal" textLength="8.7" lengthAdjust="spacingAndGlyphs" stroke="#626262" stroke-width="0.25">03</text>
<text x="337.04" y="392.20" font-size="9.0" fill="#626262" text-anchor="middle" font-weight="normal" textLength="8.7" lengthAdjust="spacingAndGlyphs" stroke="#626262" stroke-width="0.25">04</text>
<text x="353.91" y="392.20" font-size="9.0" fill="#626262" text-anchor="middle" font-weight="normal" textLength="8.7" lengthAdjust="spacingAndGlyphs" stroke="#626262" stroke-width="0.25">05</text>
<text x="370.78" y="392.20" font-size="9.0" fill="#626262" text-anchor="middle" font-weight="normal" textLength="8.7" lengthAdjust="spacingAndGlyphs" stroke="#626262" stroke-width="0.25">06</text>
<text x="387.66" y="392.20" font-size="9.0" fill="#626262" text-anchor="middle" font-weight="normal" textLength="8.7" lengthAdjust="spacingAndGlyphs" stroke="#626262" stroke-width="0.25">07</text>
<text x="404.53" y="392.20" font-size="9.0" fill="#ee3b6b" text-anchor="middle" font-weight="normal" textLength="8.7" lengthAdjust="spacingAndGlyphs" stroke="#ee3b6b" stroke-width="0.25">08</text>
<text x="421.40" y="392.20" font-size="9.0" fill="#ee3b6b" text-anchor="middle" font-weight="normal" textLength="8.7" lengthAdjust="spacingAndGlyphs" stroke="#ee3b6b" stroke-width="0.25">09</text>
<text x="438.27" y="392.20" font-size="9.0" fill="#626262" text-anchor="middle" font-weight="normal" textLength="8.7" lengthAdjust="spacingAndGlyphs" stroke="#626262" stroke-width="0.25">10</text>
<text x="455.14" y="392.20" font-size="9.0" fill="#626262" text-anchor="middle" font-weight="normal" textLength="8.7" lengthAdjust="spacingAndGlyphs" stroke="#626262" stroke-width="0.25">11</text>
<text x="472.01" y="392.20" font-size="9.0" fill="#626262" text-anchor="middle" font-weight="normal" textLength="8.7" lengthAdjust="spacingAndGlyphs" stroke="#626262" stroke-width="0.25">12</text>
<text x="488.88" y="392.20" font-size="9.0" fill="#626262" text-anchor="middle" font-weight="normal" textLength="8.7" lengthAdjust="spacingAndGlyphs" stroke="#626262" stroke-width="0.25">13</text>
<text x="505.75" y="392.20" font-size="9.0" fill="#626262" text-anchor="middle" font-weight="normal" textLength="8.7" lengthAdjust="spacingAndGlyphs" stroke="#626262" stroke-width="0.25">14</text>
<text x="522.62" y="392.20" font-size="9.0" fill="#ee3b6b" text-anchor="middle" font-weight="normal" textLength="8.7" lengthAdjust="spacingAndGlyphs" stroke="#ee3b6b" stroke-width="0.25">15</text>
<text x="539.49" y="392.20" font-size="9.0" fill="#ee3b6b" text-anchor="middle" font-weight="normal" textLength="8.7" lengthAdjust="spacingAndGlyphs" stroke="#ee3b6b" stroke-width="0.25">16</text>
<rect x="549.13" y="379.8" width="15.87" height="16.4" fill="#93d8f3"/>
<path d="M555.57,396.2 L557.07,394.6 L558.57,396.2 Z" fill="#fbfcfc"/>
<text x="556.57" y="391.30" font-size="10.4" fill="#444" text-anchor="middle" font-weight="normal" textLength="9.6" lengthAdjust="spacingAndGlyphs">17</text>
<rect x="278.09" y="381.6" width="1" height="25.4" fill="#777"/>
<text x="19.20" y="405.80" font-size="10.4" fill="#626262" text-anchor="start" font-weight="normal" textLength="30.2" lengthAdjust="spacingAndGlyphs">Август</text>
<text x="282.10" y="405.80" font-size="10.4" fill="#626262" text-anchor="start" font-weight="normal" textLength="43.6" lengthAdjust="spacingAndGlyphs">Сентябрь</text>
<line x1="43" y1="407.7" x2="565" y2="407.7" stroke="#e6e6e6" stroke-width="1" stroke-dasharray="1 1.5"/>
<text x="46.00" y="436.00" font-size="8.8" fill="#333" text-anchor="start" font-weight="normal" textLength="48.4" lengthAdjust="spacingAndGlyphs">Менструация</text>
<path d="M52.00,440.80 C52.80,442.80 54.40,443.80 54.20,446.20 C54.00,448.60 50.00,448.60 49.80,446.20 C49.70,444.00 51.20,442.80 52.00,440.80 Z" fill="#f2336a"/><path d="M48.50,444.80 C49.00,446.20 50.20,447.00 50.00,448.60 C49.80,450.40 47.00,450.40 46.90,448.60 C46.80,447.00 48.00,446.20 48.50,444.80 Z" fill="#f2336a"/>
<text x="64.00" y="448.10" font-size="8.4" fill="#626262" text-anchor="start" font-weight="normal" textLength="46.7" lengthAdjust="spacingAndGlyphs">менструация</text>
<g transform="translate(51.3,458.0) scale(1.18) translate(-51.3,-458.0)"><path d="M51.30,455.40 C51.80,456.80 52.80,457.60 52.70,459.00 C52.60,460.60 50.00,460.60 49.90,459.00 C49.80,457.60 50.80,456.80 51.30,455.40 Z" fill="#f2336a"/></g>
<text x="64.00" y="460.60" font-size="8.4" fill="#626262" text-anchor="start" font-weight="normal" textLength="83.7" lengthAdjust="spacingAndGlyphs">небольшие выделения</text>
<text x="161.30" y="436.00" font-size="8.8" fill="#333" text-anchor="start" font-weight="normal" textLength="66" lengthAdjust="spacingAndGlyphs">Тест на овуляцию</text>
<circle cx="166.70" cy="445.20" r="5.3" fill="#fde9ad"/><circle cx="166.70" cy="445.20" r="3.6" fill="#fbd36e"/><circle cx="166.70" cy="445.60" r="2.2" fill="#f8bd48"/><rect x="165.30" y="444.30" width="2.8" height="0.8" fill="#ef9a45"/>
<text x="178.70" y="448.10" font-size="8.4" fill="#626262" text-anchor="start" font-weight="normal" textLength="58.8" lengthAdjust="spacingAndGlyphs">положительный</text>
<circle cx="166.70" cy="457.20" r="5" fill="#e9e9e9"/><circle cx="166.70" cy="457.20" r="3.3" fill="#d6d6d6"/><circle cx="166.70" cy="457.20" r="1.4" fill="#b8b8b8"/>
<text x="178.70" y="460.60" font-size="8.4" fill="#626262" text-anchor="start" font-weight="normal" textLength="56" lengthAdjust="spacingAndGlyphs">отрицательный</text>
<text x="266.00" y="436.00" font-size="8.8" fill="#333" text-anchor="start" font-weight="normal" textLength="81" lengthAdjust="spacingAndGlyphs">Тест на беременность</text>
<circle cx="272.00" cy="445.20" r="5.2" fill="#fde3a6"/><circle cx="272.00" cy="445.20" r="3.7" fill="#f6c25c"/><circle cx="271.70" cy="445.40" r="2.1" fill="#fbdc96"/><path d="M272.50,447.40 L274.60,444.60" stroke="#8fb36a" stroke-width="0.7"/>
<text x="283.60" y="448.10" font-size="8.4" fill="#626262" text-anchor="start" font-weight="normal" textLength="58.4" lengthAdjust="spacingAndGlyphs">положительный</text>
<circle cx="272.00" cy="457.40" r="4.9" fill="#fafafa" stroke="#d6d6d6" stroke-width="0.9"/>
<text x="283.60" y="460.60" font-size="8.4" fill="#626262" text-anchor="start" font-weight="normal" textLength="56.4" lengthAdjust="spacingAndGlyphs">отрицательный</text>
<circle cx="272.00" cy="469.40" r="5.2" fill="#dedede"/><circle cx="272.00" cy="469.40" r="3.7" fill="#a9a9a9"/><circle cx="271.50" cy="469.10" r="2.1" fill="#dcdcdc"/><path d="M273.40,465.80 A3.9,3.9 0 0 1 275.70,468.40" stroke="#fff" stroke-width="0.9" fill="none"/>
<text x="283.60" y="473.10" font-size="8.4" fill="#626262" text-anchor="start" font-weight="normal" textLength="79.4" lengthAdjust="spacingAndGlyphs">слабоположительный</text>
<text x="376.40" y="436.00" font-size="8.8" fill="#333" text-anchor="start" font-weight="normal" textLength="89" lengthAdjust="spacingAndGlyphs">Цервикальная жидкость</text>
<path d="M384.50,443.20 L389.50,448.20 M389.50,443.20 L384.50,448.20" stroke="#b5b5b5" stroke-width="0.8"/>
<text x="393.90" y="448.10" font-size="8.4" fill="#626262" text-anchor="start" font-weight="normal" textLength="15.5" lengthAdjust="spacingAndGlyphs">сухо</text>
<path d="M385.00,455.20 L389.00,455.20 M387.00,455.20 L387.00,461.20 M385.00,461.20 L389.00,461.20" stroke="#8a8a8a" stroke-width="1"/>
<text x="393.90" y="460.60" font-size="8.4" fill="#626262" text-anchor="start" font-weight="normal" textLength="29.3" lengthAdjust="spacingAndGlyphs">клейкая</text>
<path d="M383.60,469.10 C383.60,466.10 390.40,465.90 390.40,470.90 C390.40,473.30 388.60,474.90 386.80,475.10 C387.60,473.70 387.60,472.30 386.80,471.50 C385.00,471.50 383.60,470.90 383.60,469.10 Z" fill="#8c8c8c"/>
<text x="393.90" y="473.10" font-size="8.4" fill="#626262" text-anchor="start" font-weight="normal" textLength="55.9" lengthAdjust="spacingAndGlyphs">кремообразная</text>
<path d="M387.00,479.60 C387.70,481.40 389.30,482.60 389.30,484.40 C389.30,486.80 384.70,486.80 384.70,484.40 C384.70,482.60 386.30,481.40 387.00,479.60 Z" fill="#939393"/>
<text x="393.90" y="485.60" font-size="8.4" fill="#626262" text-anchor="start" font-weight="normal" textLength="41.6" lengthAdjust="spacingAndGlyphs">водянистая</text>
<path d="M387.00,491.40 C389.20,491.40 390.20,495.20 390.20,496.90 C390.20,498.90 388.80,500.00 387.00,500.00 C385.20,500.00 383.80,498.90 383.80,496.90 C383.80,495.20 384.80,491.40 387.00,491.40 Z" fill="#8f8f8f"/>
<text x="393.90" y="498.10" font-size="8.4" fill="#626262" text-anchor="start" font-weight="normal" textLength="51.3" lengthAdjust="spacingAndGlyphs">яичный белок</text>
<path d="M484.00,447.50 L481.30,444.80 C480.20,443.60 481.40,441.80 482.70,442.40 Q483.60,442.80 484.00,443.70 Q484.40,442.80 485.30,442.40 C486.60,441.80 487.80,443.60 486.70,444.80 Z" fill="#fff" stroke="#f3668c" stroke-width="1.0" stroke-linejoin="round"/>
<text x="493.50" y="448.10" font-size="8.4" fill="#626262" text-anchor="start" font-weight="normal" textLength="44.4" lengthAdjust="spacingAndGlyphs">половой акт</text>
<circle cx="484.50" cy="457.00" r="4.5" fill="#dcdcdc"/><circle cx="484.00" cy="456.50" r="3.6" fill="#ececec"/><path d="M482.10,459.40 L486.90,454.60" stroke="#bcd3df" stroke-width="0.8"/>
<text x="493.50" y="460.60" font-size="8.4" fill="#626262" text-anchor="start" font-weight="normal" textLength="58.2" lengthAdjust="spacingAndGlyphs">прием лекарств</text>
<circle cx="484.40" cy="470.40" r="4.4" fill="#f03a6d"/><circle cx="486.70" cy="469.90" r="3.7" fill="#f7b8ca"/><circle cx="487.50" cy="469.80" r="3.5" fill="#fbfcfc"/>
<text x="493.50" y="473.10" font-size="8.4" fill="#626262" text-anchor="start" font-weight="normal" textLength="68.2" lengthAdjust="spacingAndGlyphs">лунный календарь</text>
<line x1="41" y1="521.5" x2="566" y2="521.5" stroke="#e6e6e6" stroke-width="1" stroke-dasharray="2 1"/>
</svg>
</body></html>
